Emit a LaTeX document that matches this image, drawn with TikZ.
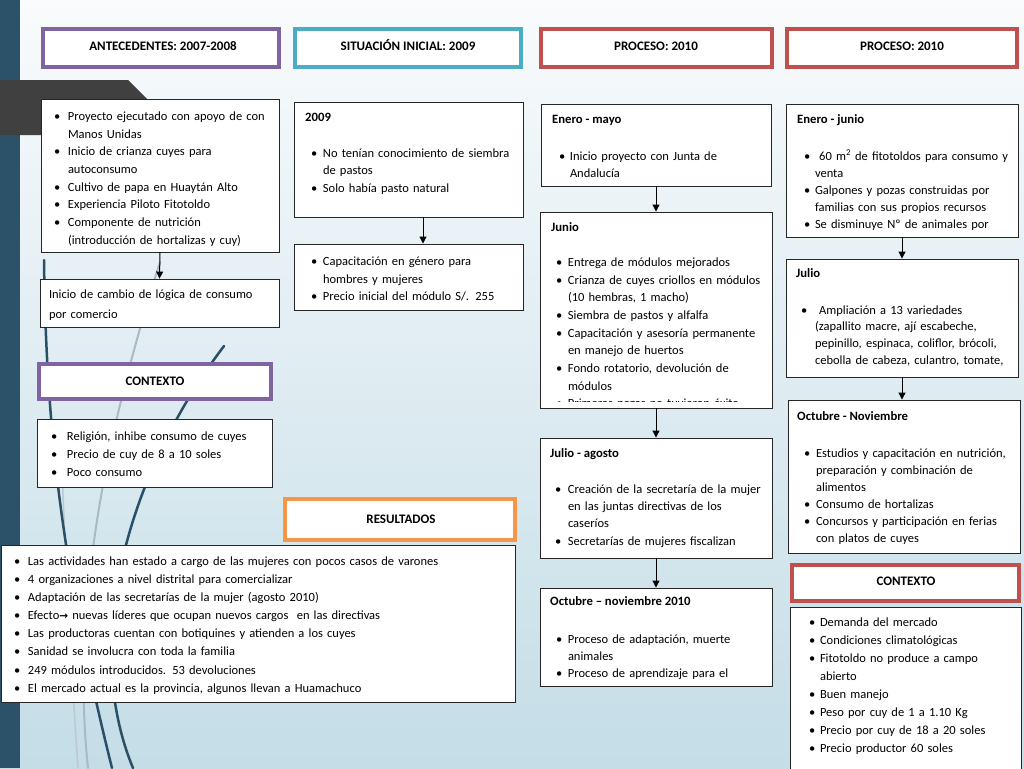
\documentclass[tikz,border=0pt]{standalone}
\usepackage{fontspec}
\setmainfont{Carlito}
\newfontfamily\djv{DejaVu Sans}
\usetikzlibrary{arrows.meta,calc,fit}
\definecolor{bgtop}{RGB}{249,251,252}
\definecolor{bgbot}{RGB}{196,221,231}
\definecolor{barblue}{RGB}{44,82,106}
\definecolor{pentgrey}{RGB}{64,64,64}
\definecolor{hpurple}{RGB}{128,100,162}
\definecolor{hblue}{RGB}{75,172,198}
\definecolor{hred}{RGB}{192,80,77}
\definecolor{horange}{RGB}{247,150,70}
\definecolor{wispdark}{RGB}{42,80,104}
\definecolor{wisplight}{RGB}{170,186,195}
\newlength{\bind}
\newcommand{\fsz}[1]{\fontsize{12.5}{#1}\selectfont}
\newcommand{\bl}{\par\hangindent=\bind\hangafter=1\noindent\strut\makebox[\bind][l]{\textbullet}}
\newcommand{\nl}{\newline}
\tikzset{
  boxn/.style={draw=black!85, line width=0.9pt, fill=white, inner sep=0pt},
  hdr/.style={draw=#1, line width=4pt, fill=white, inner sep=0pt},
  htxt/.style={anchor=base, inner sep=0pt, font=\fontsize{13}{15}\selectfont\bfseries},
  ttl/.style={anchor=base west, inner sep=0pt, font=\fontsize{12.7}{14}\selectfont\bfseries},
  lst/.style 2 args={anchor=north west, inner sep=0pt, outer sep=0pt, text width=#1, align=left, font=\fsz{#2}},
  arr/.style={-{Triangle[length=7pt,width=7pt]}, line width=1pt, black},
  wisp/.style={line cap=round}
}
\begin{document}
\begin{tikzpicture}[x=1pt,y=-1pt]
\useasboundingbox (0,0) rectangle (1024,768);
\shade[top color=bgtop, bottom color=bgbot] (0,0) rectangle (1024,768);
\fill[barblue] (0,0) rectangle (20,768);
% decorative wisps
\draw[wisp, wisplight, line width=2pt] (160,262) .. controls (110,420) and (70,600) .. (88,768);
\draw[wisp, wisplight!80!white, line width=1.5pt] (60,420) .. controls (65,550) and (70,650) .. (78,768);
\draw[wisp, wispdark, line width=2.5pt] (44,260) .. controls (46,420) and (60,560) .. (112,768);
\draw[wisp, wispdark, line width=2.5pt] (224,346) .. controls (130,470) and (80,640) .. (133,768);
\fill[pentgrey] (0,80) -- (128,80) -- (160,112) -- (140,135) -- (0,135) -- cycle;

% headers
\node[hdr=hpurple, fit={(43,29) (279,67)}] (h1) {};
\draw[hpurple, line width=1.2pt] ([xshift=3.6pt,yshift=-3.6pt]h1.north west) rectangle ([xshift=-3.6pt,yshift=3.6pt]h1.south east);
\node[htxt] (h1t) at (163,51) {ANTECEDENTES: 2007-2008};
\node[hdr=hblue, fit={(295,29) (521,67)}] (h2) {};
\draw[hblue, line width=1.2pt] ([xshift=3.6pt,yshift=-3.6pt]h2.north west) rectangle ([xshift=-3.6pt,yshift=3.6pt]h2.south east);
\node[htxt] (h2t) at (408,50) {SITUACIÓN INICIAL: 2009};
\node[hdr=hred, fit={(541,29) (772,67)}] (h3) {};
\draw[hred, line width=1.2pt] ([xshift=3.6pt,yshift=-3.6pt]h3.north west) rectangle ([xshift=-3.6pt,yshift=3.6pt]h3.south east);
\node[htxt] (h3t) at (656,50) {PROCESO: 2010};
\node[hdr=hred, fit={(787,29) (1017,67)}] (h4) {};
\draw[hred, line width=1.2pt] ([xshift=3.6pt,yshift=-3.6pt]h4.north west) rectangle ([xshift=-3.6pt,yshift=3.6pt]h4.south east);
\node[htxt] (h4t) at (902,50) {PROCESO: 2010};

% column A
\node[boxn, fit={(41,99) (279,252)}] (a1) {};
\node[lst={225pt}{17.7}] (a1t) at (54,102.6) {\setlength{\bind}{14pt}%
\bl Proyecto ejecutado con apoyo de con\nl Manos Unidas
\bl Inicio de crianza cuyes para\nl autoconsumo
\bl Cultivo de papa en Huaytán Alto
\bl Experiencia Piloto Fitotoldo
\bl Componente de nutrición\nl (introducción de hortalizas y cuy)\par};
\node[boxn, fit={(40,279) (279,327)}] (a2) {};
\node[lst={230pt}{20}] (a2t) at (49,284) {\noindent\strut Inicio de cambio de lógica de consumo\nl por comercio\par};
\draw[arr] (a1.south) -- (a2.north);
\node[hdr=hpurple, fit={(39,364) (271,399)}] (ctx1) {};
\node[htxt] (ctx1t) at (155,385) {CONTEXTO};
\node[boxn, fit={(37,419) (272,487)}] (a3) {};
\node[lst={218pt}{18}] (a3t) at (51,422.4) {\setlength{\bind}{16pt}%
\bl Religión, inhibe consumo de cuyes
\bl Precio de cuy de 8 a 10 soles
\bl Poco consumo\par};

% column B
\node[boxn, fit={(294,102) (523,217)}] (b1) {};
\node[ttl] (b1h) at (305,121) {2009};
\node[lst={208pt}{17.6}] (b1t) at (311,139.7) {\setlength{\bind}{12pt}%
\bl No tenían conocimiento de siembra\nl de pastos
\bl Solo había pasto natural\par};
\node[boxn, fit={(294,244) (523,310)}] (b2) {};
\node[lst={208pt}{17.5}] (b2t) at (311,248.25) {\setlength{\bind}{12pt}%
\bl Capacitación en género para\nl hombres y mujeres
\bl Precio inicial del módulo S/. 255\par};
\draw[arr] ([xshift=14.5pt]b1.south) -- ([xshift=14.5pt]b1.south |- b2.north);

% results
\node[hdr=horange, fit={(285,499) (515,540)}] (hr) {};
\draw[horange, line width=1.2pt] ([xshift=3.6pt,yshift=-3.6pt]hr.north west) rectangle ([xshift=-3.6pt,yshift=3.6pt]hr.south east);
\node[htxt] (hrt) at (401,523) {RESULTADOS};
\node[boxn, fit={(1,545) (515,702)}] (res) {};
\node[lst={495pt}{18.1}] (rest) at (14,547.33) {\setlength{\bind}{14pt}%
\bl Las actividades han estado a cargo de las mujeres con pocos casos de varones
\bl 4 organizaciones a nivel distrital para comercializar
\bl Adaptación de las secretarías de la mujer (agosto 2010)
\bl Efecto{\djv\fontsize{10.5}{12}\selectfont\bfseries →} nuevas líderes que ocupan nuevos cargos\ \ en las directivas
\bl Las productoras cuentan con botiquines y atienden a los cuyes
\bl Sanidad se involucra con toda la familia
\bl 249 módulos introducidos. 53 devoluciones
\bl El mercado actual es la provincia, algunos llevan a Huamachuco\par};

% column C
\node[boxn, fit={(541,104) (771,186)}] (c1) {};
\node[ttl] (c1h) at (552,123) {Enero - mayo};
\node[lst={208pt}{17}] (c1t) at (559,143.1) {\setlength{\bind}{11pt}%
\bl Inicio proyecto con Junta de\nl Andalucía\par};
\node[boxn, fit={(540,212) (772,408)}] (c2) {};
\node[ttl] (c2h) at (551,231) {Junio};
\begin{scope}
\clip (540,212) rectangle (772,401.5);
\node[lst={213pt}{17.7}] (c2t) at (556,248.6) {\setlength{\bind}{12pt}%
\bl Entrega de módulos mejorados
\bl Crianza de cuyes criollos en módulos\nl (10 hembras, 1 macho)
\bl Siembra de pastos y alfalfa
\bl Capacitación y asesoría permanente\nl en manejo de huertos
\bl Fondo rotatorio, devolución de\nl módulos
\bl Primeras pozas no tuvieron éxito\par};
\end{scope}
\node[boxn, fit={(540,438) (772,558)}] (c3) {};
\node[ttl] (c3h) at (550,457) {Julio - agosto};
\node[lst={213pt}{17.3}] (c3t) at (555,475.9) {\setlength{\bind}{13pt}%
\bl Creación de la secretaría de la mujer\nl en las juntas directivas de los\nl caseríos
\bl Secretarías de mujeres fiscalizan\par};
\node[boxn, fit={(540,588) (772,686)}] (c4) {};
\node[ttl] (c4h) at (550,605) {Octubre – noviembre 2010};
\node[lst={213pt}{17}] (c4t) at (556,626.1) {\setlength{\bind}{12pt}%
\bl Proceso de adaptación, muerte\nl animales
\bl Proceso de aprendizaje para el\par};
\draw[arr] (c1.south) -- (c1.south |- c2.north);
\draw[arr] (c1.south |- c2.south) -- (c1.south |- c3.north);
\draw[arr] (c1.south |- c3.south) -- (c1.south |- c4.north);

% column D
\node[boxn, fit={(786,104) (1018,237)}] (d1) {};
\node[ttl] (d1h) at (797,123) {Enero - junio};
\node[lst={212pt}{17}] (d1t) at (804,143.1) {\setlength{\bind}{11pt}%
\bl \ 60 m\textsuperscript{2} de fitotoldos para consumo y\nl venta
\bl Galpones y pozas construidas por\nl familias con sus propios recursos
\bl Se disminuye Nº de animales por\par};
\node[boxn, fit={(786,259) (1018,377)}] (d2) {};
\node[ttl] (d2h) at (796,277) {Julio};
\node[lst={212pt}{16.8}] (d2t) at (801,297.24) {\setlength{\bind}{14pt}%
\bl \ Ampliación a 13 variedades\nl (zapallito macre, ají escabeche,\nl pepinillo, espinaca, coliflor, brócoli,\nl cebolla de cabeza, culantro, tomate,\par};
\node[boxn, fit={(788,400) (1020,553)}] (d3) {};
\node[ttl] (d3h) at (797,420) {Octubre - Noviembre};
\node[lst={212pt}{17}] (d3t) at (804,440.1) {\setlength{\bind}{12pt}%
\bl Estudios y capacitación en nutrición,\nl preparación y combinación de\nl alimentos
\bl Consumo de hortalizas
\bl Concursos y participación en ferias\nl con platos de cuyes\par};
\draw[arr] (d1.south) -- (d1.south |- d2.north);
\draw[arr] (d1.south |- d2.south) -- (d1.south |- d3.north);
\node[hdr=hred, fit={(792,565) (1019,601)}] (ctx2) {};
\node[htxt] (ctx2t) at (906,585) {CONTEXTO};
\node[boxn, fit={(790,607) (1021,790)}] (d4) {};
\node[lst={205pt}{18}] (d4t) at (809,608.4) {\setlength{\bind}{11pt}%
\bl Demanda del mercado
\bl Condiciones climatológicas
\bl Fitotoldo no produce a campo\nl abierto
\bl Buen manejo
\bl Peso por cuy de 1 a 1.10 Kg
\bl Precio por cuy de 18 a 20 soles
\bl Precio productor 60 soles\par};
\end{tikzpicture}
\end{document}
